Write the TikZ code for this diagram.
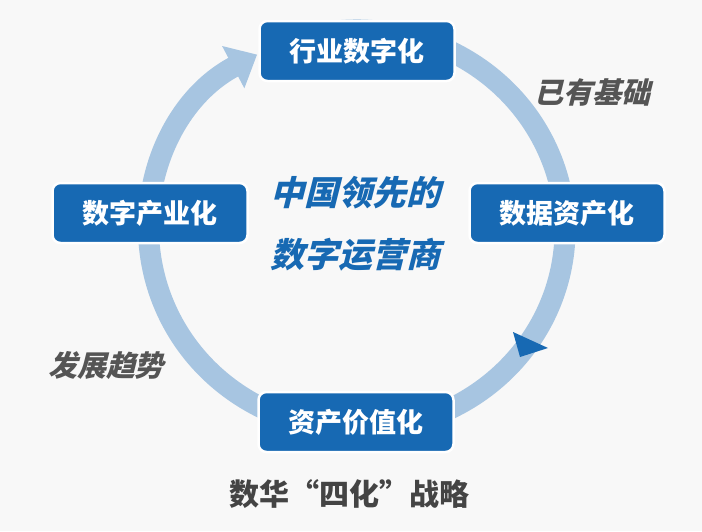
\documentclass[tikz,border=0pt]{standalone}
\usepackage{fontspec}
\usetikzlibrary{arrows.meta, positioning}
\newfontfamily\zhblk{Noto Sans CJK SC Black}
\newfontfamily\zhit{Noto Sans CJK SC Black}[FakeSlant=0.25]
\definecolor{stageblue}{HTML}{1769B3}
\definecolor{ringblue}{HTML}{A7C5E1}
\definecolor{notegray}{HTML}{555555}
\definecolor{titlegray}{HTML}{444444}
\definecolor{paper}{HTML}{F8F8F8}

\begin{document}
\begin{tikzpicture}[
  x=1pt, y=-1pt,
  stage/.style={rectangle, rounded corners=8pt, draw=white, line width=2.5pt,
    fill=stageblue, text=white, minimum width=195pt, minimum height=60pt,
    inner sep=0pt, font=\zhblk\fontsize{27}{30}\selectfont},
  ring/.style={draw=ringblue, line width=21pt,
    -{Triangle[width=46pt, length=27pt]}},
  core/.style={text=stageblue, font=\zhit\fontsize{34}{38}\selectfont},
  note/.style={text=notegray, font=\zhit\fontsize{29}{32}\selectfont},
  headline/.style={text=titlegray, font=\zhblk\fontsize{30}{34}\selectfont}
]
  \fill[paper] (0,0) rectangle (702,531);
  \useasboundingbox (0,0) rectangle (702,531);
  \coordinate (ctr) at (357,230);

  % cycle ring, ends in the arrow head at the top box
  \draw[ring] (ctr) ++(245:208 and 200)
    arc[start angle=245, end angle=601.3, x radius=208, y radius=200];

  \node[stage] (industry) at (357,51) {行业数字化};
  \node[stage] (data) at (567,213) {数据资产化};
  \node[stage] (value) at (356,422) {资产价值化};
  \node[stage] (sector) at (150,213) {数字产业化};

  \fill[stageblue] (513,332) -- (520,357) -- (548,348) -- cycle;

  \node[core] (lead) at (355,193) {中国领先的};
  \node[core, below=22pt of lead.south, anchor=north] (operator) {数字运营商};

  \node[note] (base) at (592,92) {已有基础};
  \node[note] (trend) at (106,365) {发展趋势};
  \node[headline] (title) at (349,494) {数华“四化”战略};
\end{tikzpicture}
\end{document}
